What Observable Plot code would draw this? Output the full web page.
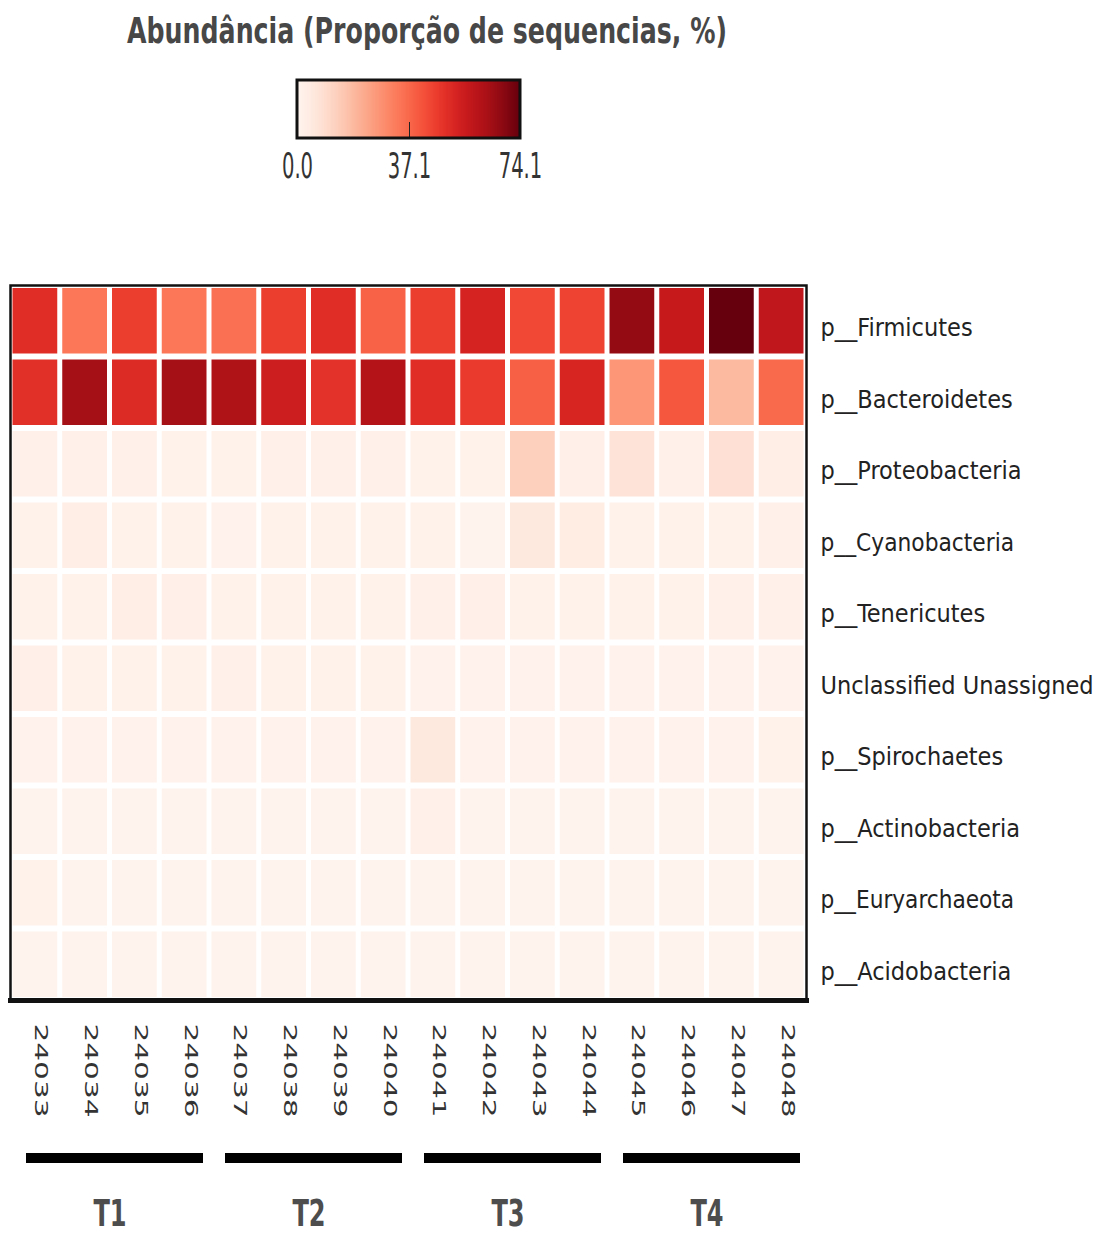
<!DOCTYPE html>
<html>
<head>
<meta charset="utf-8">
<script src="https://cdn.jsdelivr.net/npm/d3@7"></script>
<script src="https://cdn.jsdelivr.net/npm/@observablehq/plot@0.6"></script>
<style>
html, body { margin: 0; padding: 0; background: #fff; }
body { width: 1109px; height: 1234px; position: relative; overflow: hidden; font-family: "DejaVu Sans", sans-serif; }
#title { position: absolute; left: 0; top: 0; }
#legend { position: absolute; left: 272px; top: 78px; }
#main { position: absolute; left: 0; top: 270px; }
#groups { position: absolute; left: 0; top: 1140px; }
</style>
</head>
<body>
<svg id="title" width="1109" height="60"></svg>
<div id="legend"></div>
<div id="main"></div>
<div id="groups"></div>
<script>
// ---------- data ----------
const titleText = "Abundância (Proporção de sequencias, %)";
const samples = ["24033","24034","24035","24036","24037","24038","24039","24040",
                 "24041","24042","24043","24044","24045","24046","24047","24048"];
const sampleGroups = ["T1","T1","T1","T1","T2","T2","T2","T2","T3","T3","T3","T3","T4","T4","T4","T4"];
const groupNames = ["T1","T2","T3","T4"];
const phyla = ["p__Firmicutes","p__Bacteroidetes","p__Proteobacteria","p__Cyanobacteria","p__Tenericutes",
               "Unclassified Unassigned","p__Spirochaetes","p__Actinobacteria","p__Euryarchaeota","p__Acidobacteria"];

const firmicutes      = [50, 34, 46, 34, 35.5, 46, 50, 38.5, 46, 53, 44, 45, 67, 57, 74.1, 58.5];
const bacteroidetes   = [49.5, 64, 51, 64, 62, 55, 49, 61, 50, 47, 39, 52.5, 27, 41, 18.5, 37];
const proteobacteria  = [2, 2, 2, 1.5, 1.5, 2, 2, 2, 1.5, 1.5, 13, 2.5, 7, 2, 8, 3];
const cyanobacteria   = [1.5, 3, 1.5, 1.5, 1.2, 1.5, 1.5, 1.5, 1.5, 1, 5, 4, 1.5, 1.5, 1.5, 2];
const tenericutes     = [1.5, 1.5, 3, 2.5, 1.5, 1.5, 1.5, 1.5, 2, 2.5, 1.5, 1.5, 1.5, 1.5, 2, 2];
const unclassified    = [2.5, 1.5, 1.5, 1.5, 2, 1.5, 1.5, 1.5, 1.2, 1.2, 1.2, 1.2, 1.2, 1.2, 1.2, 1.2];
const spirochaetes    = [1.2, 1.2, 1.2, 1.2, 1.2, 1.2, 1.2, 1.2, 5, 1.2, 1.2, 1.2, 1.2, 1.2, 1.2, 1.5];
const actinobacteria  = [1, 1, 1, 1, 1, 1, 1, 1, 1.8, 1, 1, 1, 1, 1, 1, 1];
const euryarchaeota   = [1.5, 1, 1, 1, 1, 1, 1, 1, 1, 1, 1, 1, 1, 1, 1, 1];
const acidobacteria   = [0.8, 0.8, 0.8, 0.8, 0.8, 0.8, 0.8, 0.8, 0.8, 0.8, 0.8, 0.8, 0.8, 0.8, 0.8, 0.8];

const seriesValues = [firmicutes, bacteroidetes, proteobacteria, cyanobacteria, tenericutes,
                      unclassified, spirochaetes, actinobacteria, euryarchaeota, acidobacteria];
const colorDomain = [0, 74.1];
const colorTicks = [0, 37.1, 74.1];

const table = phyla.flatMap((p, i) => samples.map((s, j) => ({sample: s, group: sampleGroups[j], phylum: p, value: seriesValues[i][j]})));

// ---------- helpers ----------
function asSvg(el) { return el.tagName.toLowerCase() === "svg" ? el : el.querySelector("svg"); }
function squeeze(sel, factor) {
  sel.each(function () {
    const L = this.getComputedTextLength();
    if (L > 0) { this.setAttribute("textLength", L * factor); this.setAttribute("lengthAdjust", "spacingAndGlyphs"); }
  });
}
function textsOf(svgEl, labels) {
  const set = new Set(labels);
  return d3.select(svgEl).selectAll("text").filter(function () { return set.has(this.textContent); });
}

// ---------- title ----------
d3.select("#title").append("text")
  .attr("x", 127).attr("y", 43)
  .attr("font-family", '"DejaVu Sans", sans-serif')
  .attr("font-weight", "bold").attr("font-size", 36).attr("fill", "#474747")
  .attr("textLength", 600).attr("lengthAdjust", "spacingAndGlyphs")
  .text(titleText);

// ---------- legend ----------
const leg = Plot.legend({
  color: {type: "linear", scheme: "reds", domain: colorDomain, ticks: colorTicks, tickFormat: ".1f"},
  ticks: colorTicks, tickFormat: ".1f", label: null,
  width: 273, height: 100, marginTop: 2, marginBottom: 40, marginLeft: 25, marginRight: 25, tickSize: 0,
  style: {fontSize: "35px", fontFamily: '"DejaVu Sans", sans-serif', color: "#333", overflow: "visible", background: "transparent"}
});
document.getElementById("legend").appendChild(leg);
{
  const ls = d3.select(asSvg(leg));
  const img = ls.select("image");
  ls.selectAll(".tick line").each(function (d, i) {
    if (i === 1) d3.select(this).attr("y1", -16).attr("y2", 0).attr("stroke", "#222").attr("stroke-width", 1);
    else d3.select(this).remove();
  });
  ls.selectAll(".tick text").attr("y", 15).attr("fill", "#333");
  squeeze(ls.selectAll(".tick text"), 0.56);
  if (!img.empty()) {
    ls.append("rect")
      .attr("x", img.attr("x")).attr("y", img.attr("y"))
      .attr("width", img.attr("width")).attr("height", img.attr("height"))
      .attr("fill", "none").attr("stroke", "#111").attr("stroke-width", 3);
  }
}

// ---------- heatmap ----------
const main = Plot.plot({
  width: 1109, height: 865,
  marginTop: 15, marginLeft: 10, marginRight: 303, marginBottom: 135,
  x: {domain: samples, padding: 0, round: false, axis: null},
  y: {domain: phyla, padding: 0, round: false, axis: null},
  color: {type: "linear", scheme: "reds", domain: colorDomain},
  style: {background: "white", fontFamily: '"DejaVu Sans", sans-serif', overflow: "visible"},
  marks: [
    Plot.cell(table, {x: "sample", y: "phylum", fill: "value", insetLeft: 2.5, insetRight: 2.5, insetTop: 3, insetBottom: 3}),
    Plot.frame({stroke: "#111", strokeWidth: 2.5}),
    Plot.frame({anchor: "bottom", stroke: "#111", strokeWidth: 5}),
    Plot.text(phyla, {y: d => d, frameAnchor: "right", textAnchor: "start", dx: 14, dy: 7,
                      fontSize: 25, fill: "#222", fontFamily: '"DejaVu Sans Condensed", "DejaVu Sans"'}),
    Plot.text(samples, {x: d => d, frameAnchor: "bottom", rotate: 90, textAnchor: "start", dy: 23,
                        fontSize: 17, fill: "#333"})
  ]
});
document.getElementById("main").appendChild(main);
{
  const msvg = asSvg(main);
  textsOf(msvg, phyla).each(function () {
    const L = this.getComputedTextLength();
    const target = this.textContent.length * 12.1;
    if (L > target * 1.03) { this.setAttribute("textLength", target); this.setAttribute("lengthAdjust", "spacingAndGlyphs"); }
  });
  textsOf(msvg, samples).attr("textLength", 94).attr("lengthAdjust", "spacingAndGlyphs");
}

// ---------- treatment groups ----------
const grp = Plot.plot({
  width: 1109, height: 94,
  marginTop: 13, marginLeft: 10, marginRight: 303, marginBottom: 71,
  x: {domain: groupNames, padding: 0, round: false, axis: null},
  y: {domain: [0, 1], axis: null},
  style: {background: "transparent", fontFamily: '"DejaVu Sans", sans-serif', overflow: "visible"},
  marks: [
    Plot.barY(groupNames, {x: d => d, y1: 0, y2: 1, fill: "black", insetLeft: 16, insetRight: 6}),
    Plot.text(groupNames, {x: d => d, frameAnchor: "bottom", lineAnchor: "bottom", dy: 62, fontSize: 37,
                           fontWeight: "bold", fill: "#4d4d4d"})
  ]
});
document.getElementById("groups").appendChild(grp);
squeeze(textsOf(asSvg(grp), groupNames), 0.65);
</script>
</body>
</html>
